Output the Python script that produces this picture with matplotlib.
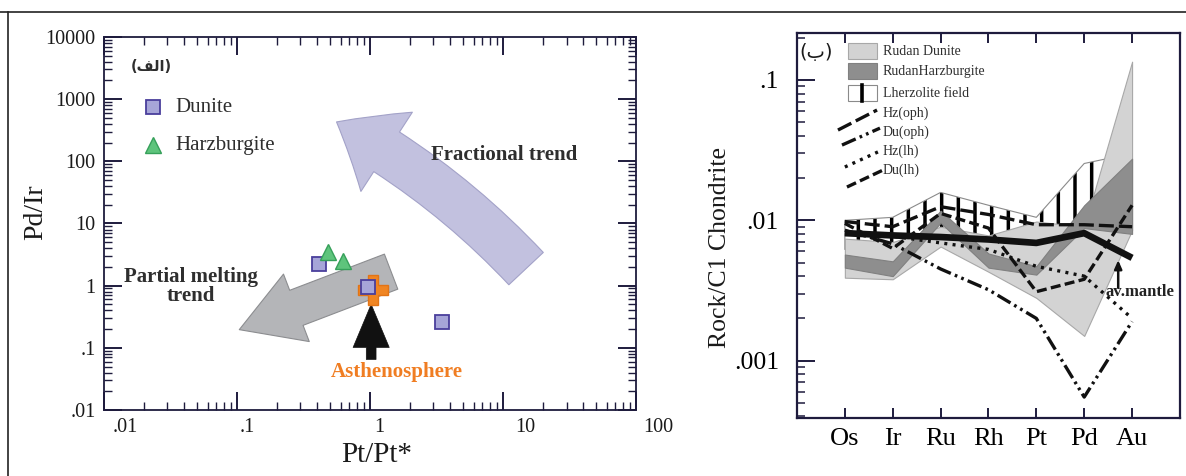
import numpy as np
import matplotlib.pyplot as plt
import matplotlib.ticker as mticker
import matplotlib.transforms as mtransforms
from matplotlib.patches import FancyArrowPatch, Rectangle
from matplotlib.lines import Line2D

plt.rcParams['font.family'] = ['Liberation Serif', 'DejaVu Sans']
plt.rcParams['hatch.linewidth'] = 2.5

# --- Pd/Ir vs Pt/Pt* ---
dunite_ptpt = [0.41, 0.97, 3.5]
dunite_pdir = [2.2, 0.96, 0.26]
harz_ptpt = [0.48, 0.63]
harz_pdir = [3.5, 2.5]
astheno_ptpt = [1.06]
astheno_pdir = [0.84]

# trend arrows: (tail, head) in Pt/Pt*, Pd/Ir
frac_trend = [(14.9, 1.88), (0.56, 430)]
melt_trend = [(1.44, 1.68), (0.104, 0.196)]
astheno_arrow = [(1.02, 0.065), (1.02, 0.5)]

# --- chondrite normalised PGE patterns ---
elements = ['Os', 'Ir', 'Ru', 'Rh', 'Pt', 'Pd', 'Au']
lherz_hi = [0.0100, 0.0105, 0.0158, 0.0128, 0.0105, 0.0254, 0.030]
lherz_lo = [0.0062, 0.0068, 0.0085, 0.0072, 0.0085, 0.0088, 0.012]
dun_hi = [0.0074, 0.0070, 0.0090, 0.0078, 0.0098, 0.0090, 0.135]
dun_lo = [0.0039, 0.0038, 0.0065, 0.0043, 0.0028, 0.0015, 0.0085]
harz_hi = [0.0057, 0.0051, 0.0117, 0.0058, 0.0047, 0.0128, 0.0275]
harz_lo = [0.0046, 0.0040, 0.0096, 0.0046, 0.0041, 0.0088, 0.0080]
hz_oph = [0.0098, 0.0090, 0.0125, 0.0110, 0.0093, 0.0093, 0.0090]
du_oph = [0.0085, 0.0068, 0.0045, 0.0032, 0.0020, 0.00055, 0.0019]
hz_lh = [0.0080, 0.0077, 0.0069, 0.0062, 0.0047, 0.0040, 0.0020]
du_lh = [0.0095, 0.0063, 0.0112, 0.0088, 0.0031, 0.0038, 0.0128]
av_mantle = [0.0081, 0.0078, 0.0076, 0.0073, 0.0069, 0.0081, 0.0054]

axcol = '#1e1b3d'
txtcol = '#2e2e2e'

fig = plt.figure(figsize=(11.86, 4.76), dpi=100)

# frame round the figure
fig.add_artist(Line2D([0, 1], [0.975, 0.975], color='#222222', lw=1.2))
fig.add_artist(Line2D([0.0067, 0.0067], [0, 0.975], color='#222222', lw=1.2))

# ================= left panel =================
ax1 = fig.add_axes([0.0877, 0.1387, 0.4486, 0.7836])
ax1.set_xscale('log')
ax1.set_yscale('log')
ax1.set_xlim(0.01, 100)
ax1.set_ylim(0.01, 10000)

xt = [0.01, 0.1, 1, 10, 100]
ax1.set_xticks(xt)
ax1.set_xticklabels(['.01', '.1', '1', '10', '100'])
yt = [0.01, 0.1, 1, 10, 100, 1000, 10000]
ax1.set_yticks(yt)
ax1.set_yticklabels(['.01', '.1', '1', '10', '100', '1000', '10000'])
ax1.xaxis.set_minor_locator(mticker.LogLocator(base=10, subs=np.arange(2, 10), numticks=30))
ax1.yaxis.set_minor_locator(mticker.LogLocator(base=10, subs=np.arange(2, 10), numticks=30))
ax1.xaxis.set_minor_formatter(mticker.NullFormatter())
ax1.yaxis.set_minor_formatter(mticker.NullFormatter())
ax1.tick_params(which='both', direction='in', top=True, right=True, color=axcol, labelcolor='#1a1a1a')
ax1.tick_params(which='major', length=13, width=1.4, labelsize=14.5, pad=6)
ax1.tick_params(which='minor', length=6, width=1.0)
for s in ax1.spines.values():
    s.set_color(axcol)
    s.set_linewidth(1.3)

# tick labels sit a little right of their ticks
for lab, dx in zip(ax1.get_xticklabels(), [21, 10, 9, 22, 22]):
    lab.set_transform(lab.get_transform() + mtransforms.ScaledTranslation(dx / 100, 0, fig.dpi_scale_trans))

ax1.set_xlabel('Pt/Pt*', fontsize=21, color='#1a1a1a')
ax1.set_ylabel('Pd/Ir', fontsize=20, color='#1a1a1a')
ax1.xaxis.set_label_coords(0.513, -0.085)
ax1.yaxis.set_label_coords(-0.105, 0.53)

# trend arrows
ax1.add_patch(FancyArrowPatch(frac_trend[0], frac_trend[1],
                              arrowstyle='simple,head_length=42,head_width=68,tail_width=34',
                              connectionstyle='arc3,rad=0.08', mutation_scale=1,
                              shrinkA=0, shrinkB=0, fc='#c2c1df', ec='#a3a2c8', lw=0.8, zorder=2))
ax1.add_patch(FancyArrowPatch(melt_trend[0], melt_trend[1],
                              arrowstyle='simple,head_length=44,head_width=52,tail_width=27',
                              mutation_scale=1, shrinkA=0, shrinkB=0,
                              fc='#b4b5b8', ec='#8c8d90', lw=0.8, zorder=2))
ax1.add_patch(FancyArrowPatch(astheno_arrow[0], astheno_arrow[1],
                              arrowstyle='simple,head_length=31,head_width=26,tail_width=7',
                              mutation_scale=1, shrinkA=0, shrinkB=0,
                              fc='#111111', ec='#111111', lw=0.5, zorder=2))

ax1.plot(astheno_ptpt, astheno_pdir, ls='none', marker='P', ms=22,
         mfc='#f08522', mec='#e27416', zorder=3)
ax1.plot(dunite_ptpt, dunite_pdir, ls='none', marker='s', ms=10,
         mfc='#a6a5d8', mec='#4a3f9c', mew=1.3, zorder=4)
ax1.plot(harz_ptpt, harz_pdir, ls='none', marker='^', ms=11,
         mfc='#5ec47c', mec='#36a05a', mew=1.0, zorder=4)

# legend
ax1.plot([0.0921], [0.812], transform=ax1.transAxes, marker='s', ms=10,
         mfc='#a6a5d8', mec='#4a3f9c', mew=1.3, ls='none')
ax1.plot([0.0921], [0.71], transform=ax1.transAxes, marker='^', ms=11,
         mfc='#5ec47c', mec='#36a05a', mew=1.0, ls='none')
ax1.text(0.1335, 0.812, 'Dunite', transform=ax1.transAxes, fontsize=15,
         color=txtcol, ha='left', va='center')
ax1.text(0.1335, 0.71, 'Harzburgite', transform=ax1.transAxes, fontsize=15,
         color=txtcol, ha='left', va='center')

ax1.text(0.0226, 3300, '(\uFED2\uFEDF\uFE8D)', fontsize=10.5, fontweight='bold',
         family=['DejaVu Sans'], color=txtcol, ha='center', va='center')
ax1.text(10.2, 128, 'Fractional trend', fontsize=15, fontweight='bold',
         color=txtcol, ha='center', va='center')
ax1.text(0.045, 0.96, 'Partial melting\ntrend', fontsize=15, fontweight='bold',
         color=txtcol, ha='center', va='center', linespacing=0.95)
ax1.text(1.6, 0.0414, 'Asthenosphere', fontsize=15, fontweight='bold',
         color='#f07d22', ha='center', va='center')

# ================= right panel =================
ax2 = fig.add_axes([0.6720, 0.1218, 0.3229, 0.8088])
ax2.set_yscale('log')
ax2.set_xlim(-1, 7)
ax2.set_ylim(0.00039, 0.216)
x = np.arange(len(elements))

ax2.fill_between(x, lherz_lo, lherz_hi, facecolor='white', edgecolor='black',
                 hatch='|', lw=0, zorder=1)
ax2.fill_between(x, lherz_lo, lherz_hi, facecolor='none', edgecolor='#8a8a8a',
                 lw=0.8, zorder=1.1)
ax2.fill_between(x, dun_lo, dun_hi, facecolor='#d3d3d3', edgecolor='#a8a8a8',
                 lw=0.8, zorder=2)
ax2.fill_between(x, harz_lo, harz_hi, facecolor='#8e8e8e', edgecolor='#808080',
                 lw=0.8, zorder=3)

lw = 2.4
ax2.plot(x, hz_oph, color='#111111', lw=lw, dashes=(4.5, 1.5), zorder=4)
ax2.plot(x, du_oph, color='#111111', lw=lw, dashes=(4.5, 1.3, 0.8, 1.3, 0.8, 1.3), zorder=4)
ax2.plot(x, hz_lh, color='#111111', lw=lw, dashes=(0.9, 1.6), zorder=4)
ax2.plot(x, du_lh, color='#111111', lw=lw, dashes=(3.0, 1.3), zorder=4)
ax2.plot(x, av_mantle, color='#111111', lw=4.8, solid_capstyle='butt', zorder=5)

ax2.set_xticks(x)
ax2.set_xticklabels(elements)
ax2.set_yticks([0.001, 0.01, 0.1])
ax2.set_yticklabels(['.001', '.01', '.1'])
ax2.yaxis.set_minor_locator(mticker.LogLocator(base=10, subs=np.arange(2, 10), numticks=30))
ax2.yaxis.set_minor_formatter(mticker.NullFormatter())
ax2.tick_params(axis='x', which='major', direction='in', top=True, bottom=True,
                length=7.5, width=1.4, labelsize=19, pad=7, color=axcol)
ax2.tick_params(axis='y', which='both', direction='in', left=True, right=False, color=axcol)
ax2.tick_params(axis='y', which='major', length=13, width=1.4, labelsize=18.5, pad=13)
ax2.tick_params(axis='y', which='minor', length=6, width=1.1)
for s in ax2.spines.values():
    s.set_color(axcol)
    s.set_linewidth(1.6)
ax2.set_ylabel('Rock/C1 Chondrite', fontsize=18.5, color='#1a1a1a')
ax2.yaxis.set_label_coords(-0.172, 0.444)

# legend boxes
tr = ax2.transAxes
ax2.add_patch(Rectangle((0.133, 0.932), 0.0757, 0.0416, transform=tr,
                        fc='#d3d3d3', ec='#a8a8a8', lw=0.8, zorder=6))
ax2.add_patch(Rectangle((0.133, 0.880), 0.0757, 0.0416, transform=tr,
                        fc='#8e8e8e', ec='#808080', lw=0.8, zorder=6))
ax2.add_patch(Rectangle((0.133, 0.823), 0.0757, 0.0416, transform=tr,
                        fc='white', ec='#8a8a8a', lw=0.8, zorder=6))
ax2.add_line(Line2D([0.171, 0.171], [0.823, 0.8646], transform=tr,
                    color='black', lw=2.6, zorder=7))
leg_labels = ['Rudan Dunite', 'RudanHarzburgite', 'Lherzolite field',
              'Hz(oph)', 'Du(oph)', 'Hz(lh)', 'Du(lh)']
leg_y = [0.953, 0.901, 0.844, 0.792, 0.743, 0.694, 0.644]
for lab, yy in zip(leg_labels, leg_y):
    ax2.text(0.2245, yy, lab, transform=tr, fontsize=10, color=txtcol,
             ha='left', va='center', zorder=7)

# slanted line samples
samples = [((0.107, 0.209), (0.748, 0.800), (4.5, 1.5)),
           ((0.1175, 0.2167), (0.709, 0.753), (4.5, 1.3, 0.8, 1.3, 0.8, 1.3)),
           ((0.125, 0.222), (0.652, 0.696), (0.9, 1.6)),
           ((0.1305, 0.2245), (0.600, 0.644), (3.0, 1.3))]
for xs, ys, d in samples:
    ax2.add_line(Line2D(xs, ys, transform=tr, color='#111111', lw=lw, dashes=d, zorder=7))

ax2.text(0.05, 0.95, '(\uFE8F)', transform=tr, fontsize=14, family=['DejaVu Sans'],
         color='#1a1a1a', ha='center', va='center')

ax2.annotate('', xy=(5.71, 0.0052), xytext=(5.71, 0.0033),
             arrowprops=dict(arrowstyle='-|>,head_length=0.5,head_width=0.22',
                             color='#111111', lw=1.8, shrinkA=0, shrinkB=0), zorder=8)
ax2.text(6.17, 0.00308, 'av.mantle', fontsize=12, fontweight='bold',
         color='#222222', ha='center', va='center', zorder=8)

fig.savefig('out.png', dpi=100)
